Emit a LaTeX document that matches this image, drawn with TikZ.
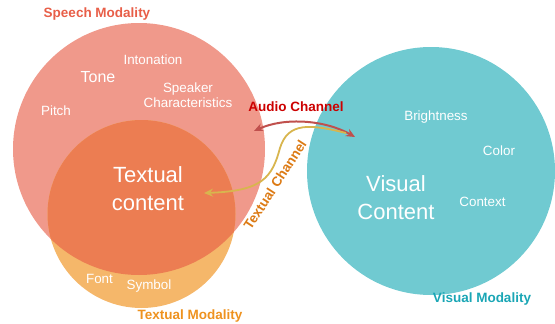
\documentclass[tikz,border=0pt]{standalone}
\usepackage{fontspec}
\setmainfont{Liberation Sans}
\usetikzlibrary{arrows.meta}
\definecolor{speechpink}{HTML}{F0998B}
\definecolor{textorange}{HTML}{F5B76A}
\definecolor{overlapc}{HTML}{EC7D52}
\definecolor{visualteal}{HTML}{70CAD1}
\definecolor{speechtitle}{HTML}{E85E48}
\definecolor{audiored}{HTML}{CC0000}
\definecolor{textchan}{HTML}{DC7A14}
\definecolor{texttitle}{HTML}{EE921F}
\definecolor{visualtitle}{HTML}{1AA6B5}
\definecolor{audioarrow}{HTML}{C0504D}
\definecolor{goldarrow}{HTML}{D8B54E}
\tikzset{
  lbl/.style={text=white, inner sep=0pt, font=\fontsize{13.4}{15.5}\selectfont, align=center},
  biglbl/.style={text=white, inner sep=0pt, font=\fontsize{22}{28}\selectfont, align=center},
  ttl/.style={inner sep=0pt, font=\fontsize{13.5}{15}\selectfont\bfseries},
}
\begin{document}
\begin{tikzpicture}[x=1pt,y=-1pt]
\useasboundingbox (0,0) rectangle (555,324);
% circles
\fill[speechpink] (139,149) circle[radius=126];
\fill[textorange] (141.5,214) circle[radius=94];
\begin{scope}
  \clip (139,149) circle[radius=126];
  \fill[overlapc] (141.5,214) circle[radius=94];
\end{scope}
\fill[visualteal] (431,171) circle[radius=124];
% titles
\node[ttl, text=speechtitle] (speechT) at (97,14) {Speech Modality};
\node[ttl, text=texttitle] (textT) at (190,316) {Textual Modality};
\node[ttl, text=visualtitle] (visualT) at (482,299) {Visual Modality};
% speech labels
\node[lbl] (inton) at (153,60) {Intonation};
\node[lbl, font=\fontsize{16}{18}\selectfont] (tone) at (98,77) {Tone};
\node[lbl] (speaker) at (188,95) {Speaker\\Characteristics};
\node[lbl] (pitch) at (56,111) {Pitch};
\node[biglbl] (textual) at (148,189) {Textual\\content};
\node[lbl] (font) at (99.5,279) {Font};
\node[lbl] (symbol) at (149,286) {Symbol};
% visual labels
\node[lbl] (bright) at (436,117) {Brightness};
\node[lbl] (color) at (499,151) {Color};
\node[lbl] (context) at (482.5,202) {Context};
\node[biglbl] (visual) at (396,198) {Visual\\Content};
% channels
\coordinate (audL) at (254,131);
\coordinate (audR) at (355,137);
\draw[audioarrow, line width=2pt, {Stealth[length=9pt,width=8pt]}-{Stealth[length=9pt,width=8pt]}]
  (audL) .. controls (285,117) and (325,120) .. (audR);
\coordinate (goldS) at (346,133);
\coordinate (goldM) at (280,148);
\coordinate (goldE) at (204,193);
\draw[goldarrow, line width=1.8pt, -{Stealth[length=9pt,width=8pt]}]
  (goldS) .. controls (310,124) and (288,122) .. (goldM)
  .. controls (272,178) and (262,191) .. (goldE);
\node[ttl, text=audiored] (audioT) at (296,107) {Audio Channel};
\node[ttl, text=textchan, rotate=57] (textchT) at (275,185) {Textual Channel};
\end{tikzpicture}
\end{document}
